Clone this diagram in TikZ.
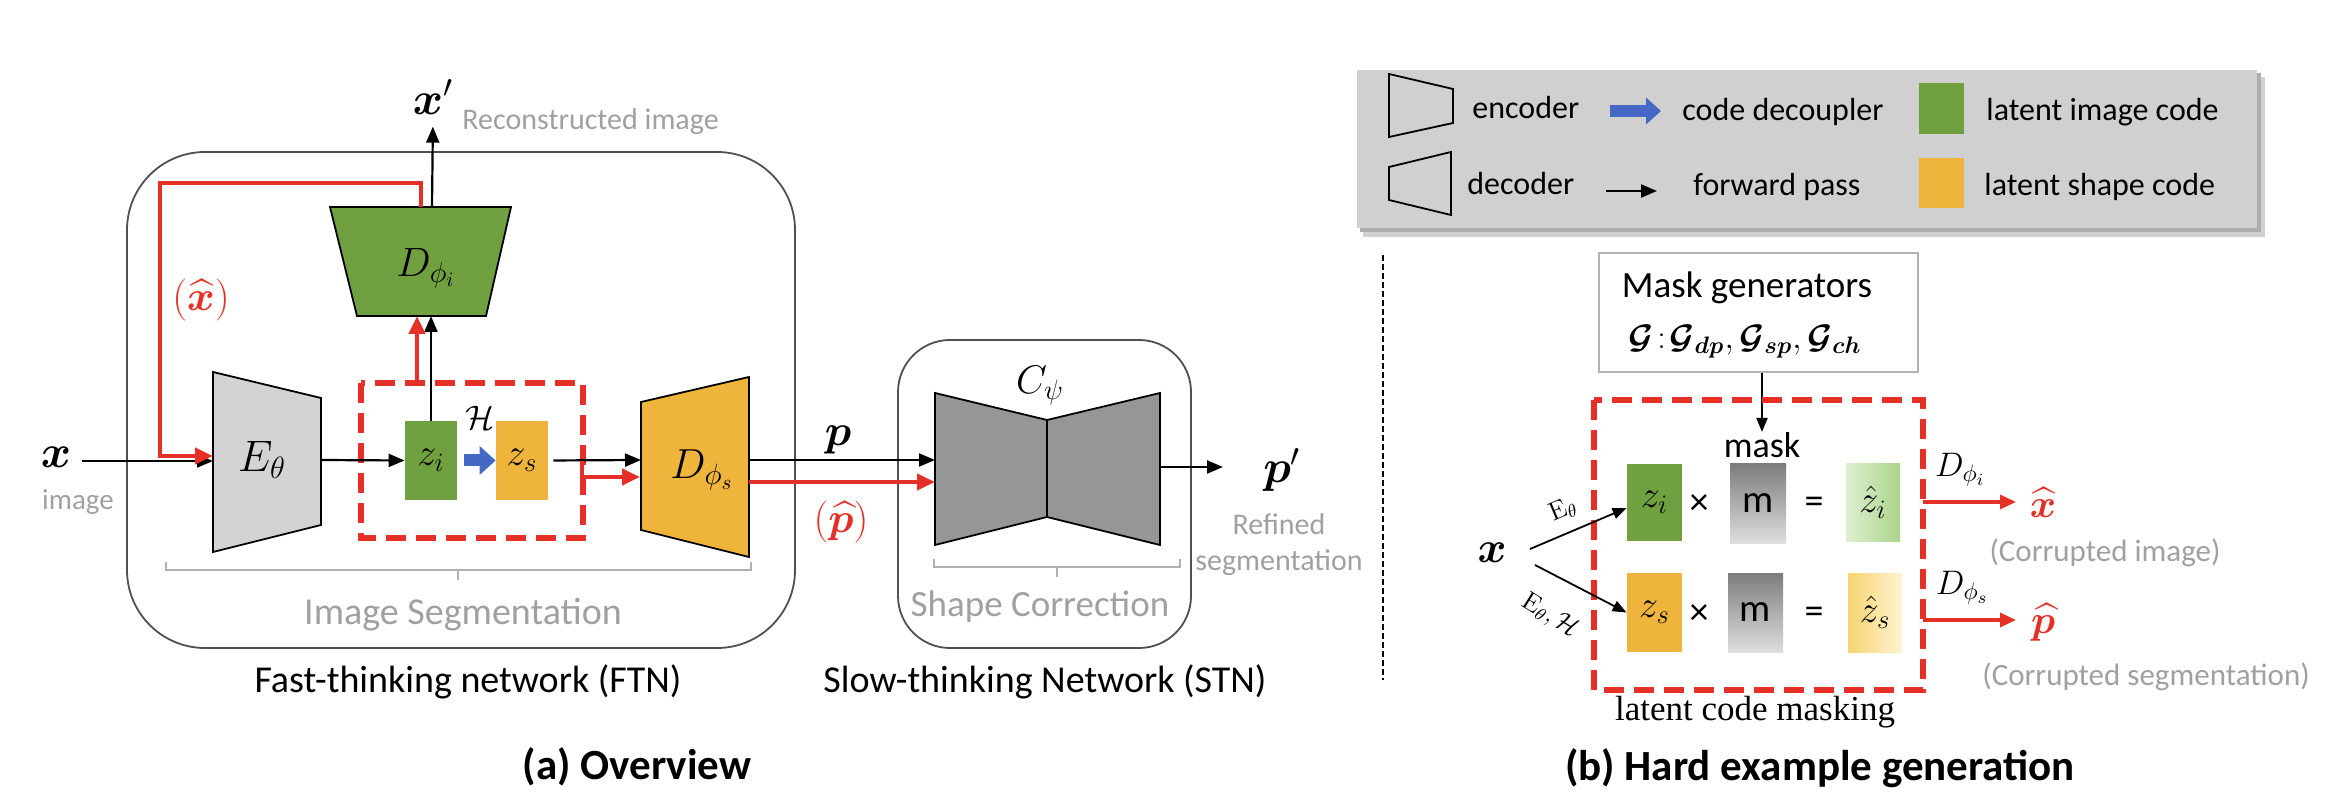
\RequirePackage{fix-cm}
\documentclass[tikz,border=0pt]{standalone}
\usepackage{fontspec}
\usepackage{amsmath}
\usepackage{bm}
\newfontfamily\carlito{Carlito}
\newfontfamily\libserif{Liberation Serif}
\usetikzlibrary{arrows.meta}
\definecolor{cgreen}{RGB}{112,160,64}
\definecolor{cyellow}{RGB}{239,180,60}
\definecolor{cred}{RGB}{228,48,38}
\definecolor{cblue}{RGB}{68,104,196}
\definecolor{ctext}{RGB}{160,160,160}
\definecolor{clgray}{RGB}{211,211,211}
\definecolor{cdgray}{RGB}{150,150,150}
\definecolor{clegend}{RGB}{208,208,208}
\definecolor{cbracket}{RGB}{176,176,176}
\definecolor{cframe}{RGB}{80,80,80}
\definecolor{cmtop}{RGB}{125,125,125}
\definecolor{cmbot}{RGB}{222,222,222}
\definecolor{clgA}{RGB}{222,239,208}
\definecolor{clgB}{RGB}{170,212,140}
\definecolor{cyA}{RGB}{246,212,110}
\definecolor{cyB}{RGB}{255,243,210}
\tikzset{
  arr/.style={line width=1.1pt, -{Triangle[length=8pt,width=6.5pt]}},
  thinarr/.style={line width=0.9pt, -{Triangle[length=7pt,width=5.5pt]}},
  redarr/.style={draw=cred, line width=2.4pt, -{Triangle[length=9pt,width=8pt]}},
  redarrb/.style={draw=cred, line width=1.6pt, -{Triangle[length=8pt,width=7pt]}},
  reddash/.style={draw=cred, line width=2.6pt, dash pattern=on 10pt off 5pt},
  shp/.style={draw=black, line width=0.9pt, line join=miter},
  frame/.style={draw=cframe, line width=0.9pt},
  brk/.style={draw=cbracket, line width=1pt},
  gtxt/.style={inner sep=0pt, text=ctext, font=\carlito\fontsize{#1}{#1}\selectfont},
  btxt/.style={inner sep=0pt, text=black, font=\carlito\fontsize{#1}{#1}\selectfont},
  mth/.style={inner sep=0pt, font=\fontsize{#1}{#1}\selectfont},
  codebox/.style={inner sep=0pt, draw=none, font=\fontsize{19}{19}\selectfont},
  bluearr/.style={draw=cblue, line width=6pt, -{Triangle[length=8pt,width=14pt]}},
}
\begin{document}
\begin{tikzpicture}[x=0.5pt,y=-0.5pt]
\useasboundingbox (0,0) rectangle (2338,806);

% ---------------- (a) Overview ----------------
\draw[frame, rounded corners=39pt] (127,152) rectangle (795,648);
\draw[frame, rounded corners=26pt] (898,340) rectangle (1191,648);

% decoder D_phi_i
\coordinate (Di1) at (330,207); \coordinate (Di2) at (511,207);
\coordinate (Di3) at (486,316); \coordinate (Di4) at (357,316);
\filldraw[shp, fill=cgreen] (Di1) -- (Di2) -- (Di3) -- (Di4) -- cycle;
\node[mth=20.5] (Dil) at (426,268) {$D_{\phi_i}$};
\coordinate (Ditop) at (432,207);
\coordinate (Direda) at (421,207);
\coordinate (Dibot) at (431,316);
\coordinate (Dired) at (417,316);

% encoder E_theta
\coordinate (E1) at (213,372); \coordinate (E2) at (321,398);
\coordinate (E3) at (321,525); \coordinate (E4) at (213,552);
\filldraw[shp, fill=clgray] (E1) -- (E2) -- (E3) -- (E4) -- cycle;
\node[mth=22] (El) at (262,460) {$E_{\theta}$};
\coordinate (Ein) at (213,461);
\coordinate (Eredin) at (213,456);
\coordinate (Eout) at (321,460);

% decoder D_phi_s
\coordinate (Ds1) at (641,402); \coordinate (Ds2) at (749,377);
\coordinate (Ds3) at (749,557); \coordinate (Ds4) at (641,530);
\filldraw[shp, fill=cyellow] (Ds1) -- (Ds2) -- (Ds3) -- (Ds4) -- cycle;
\node[mth=21] (Dsl) at (702,470) {$D_{\phi_s}$};
\coordinate (Dsin) at (641,460);
\coordinate (Dsredin) at (640,477);
\coordinate (Dsout) at (749,460);
\coordinate (Dsoutr) at (749,482);

% C_psi
\coordinate (C1) at (935,393); \coordinate (C2) at (1047,420);
\coordinate (C3) at (1047,517); \coordinate (C4) at (935,545);
\coordinate (C5) at (1160,393); \coordinate (C6) at (1160,545);
\filldraw[shp, fill=cdgray] (C1) -- (C2) -- (C3) -- (C4) -- cycle;
\filldraw[shp, fill=cdgray] (C2) -- (C5) -- (C6) -- (C3) -- cycle;
\node[mth=20] (Cl) at (1040,386) {$C_{\psi}$};
\coordinate (Cin) at (935,460);
\coordinate (Cinr) at (935,482);
\coordinate (Cout) at (1160,467);
\coordinate (Cend) at (1223,467);

% dashed box and codes
\draw[reddash] (361,383) rectangle (583,538);
\coordinate (dbtop) at (417,383);
\coordinate (dbright) at (582,461);
\node[codebox, fill=cgreen, minimum width=26pt, minimum height=39.5pt] (zi) at (431,460.5) {$z_i$};
\node[codebox, fill=cyellow, minimum width=26pt, minimum height=39.5pt] (zs) at (522,460.5) {$z_s$};
\node[mth=17] (Hl) at (480,418) {$\mathcal{H}$};

% labels
\node[mth=23] (xa) at (56,457) {$\bm{x}$};
\node[gtxt=14.5] (imglbl) at (78,502) {image};
\node[mth=23] (xp) at (433,97) {$\bm{x}'$};
\node[gtxt=15, anchor=west] (recon) at (462,122) {Reconstructed image};
\node[mth=21, text=cred] (xhatp) at (201,300) {$(\widehat{\bm{x}})$};
\node[mth=22] (pl) at (838,440) {$\bm{p}$};
\node[mth=21, text=cred] (phatp) at (841,522) {$(\widehat{\bm{p}})$};
\node[mth=23] (ppl) at (1282,470) {$\bm{p}'$};
\node[gtxt=15, align=center, font=\carlito\fontsize{15}{18}\selectfont] (refined) at (1279,545) {Refined\\segmentation};

% connectors (a)
\draw[arr, shorten <=5pt] (xa.east |- Ein) -- (Ein);
\draw[redarr] (Direda) -- ++(0,-24) -- ++(-261,0) -- ++(0,273) -- (Eredin);
\draw[arr] (Eout) -- (zi.west);
\draw[arr] (zi.north) -- (Dibot);
\draw[redarr] (dbtop) -- (Dired);
\draw[arr, shorten >=6pt] (Ditop) -- (xp.south);
\draw[bluearr, shorten <=3.5pt] (zi.east) -- (zs.west);
\draw[arr, shorten <=2.5pt] (zs.east) -- (Dsin);
\draw[redarr] (dbright) -- ++(0,16) -- (Dsredin);
\draw[arr] (Dsout) -- (Cin);
\draw[redarr] (Dsoutr) -- (Cinr);
\draw[arr] (Cout) -- (Cend);

% brackets
\draw[brk] (166,562) -- (166,570) -- (751,570) -- (751,562);
\draw[brk] (458,570) -- (458,580);
\node[gtxt=19] (imseg) at (463,615) {Image Segmentation};
\draw[brk] (934,559) -- (934,567) -- (1180,567) -- (1180,559);
\draw[brk] (1057,567) -- (1057,577);
\node[gtxt=18.5] (shcorr) at (1040,607) {Shape Correction};

\node[btxt=19] (ftn) at (468,682) {Fast-thinking network (FTN)};
\node[btxt=19] (stn) at (1045,682) {Slow-thinking Network (STN)};
\node[btxt=21.5, font=\carlito\bfseries\fontsize{21.5}{21.5}\selectfont] (capa) at (637,767) {(a) Overview};

% separator
\draw[line width=0.6pt, dash pattern=on 3pt off 1.5pt] (1383,255) -- (1383,680);

% ---------------- legend ----------------
\fill[black!18] (1363,77) rectangle (2265,237);
\fill[black!32] (1360,73) rectangle (2261,232);
\fill[clegend] (1357,70) rectangle (2257,228);
\draw[shp] (1389,74) -- (1453,89) -- (1453,123) -- (1389,137) -- cycle;
\draw[shp] (1389,167) -- (1451,152) -- (1451,215) -- (1389,200) -- cycle;
\node[btxt=16, anchor=west] (lenc) at (1472,108) {encoder};
\node[btxt=16, anchor=west] (ldec) at (1467,184) {decoder};
\coordinate (lba1) at (1610,111); \coordinate (lba2) at (1661,111);
\draw[draw=cblue, line width=6pt, -{Triangle[length=7.5pt,width=13pt]}] (lba1) -- (lba2);
\coordinate (lka1) at (1606,191); \coordinate (lka2) at (1657,191);
\draw[line width=1pt, -{Triangle[length=8pt,width=6.5pt]}] (lka1) -- (lka2);
\node[btxt=16, anchor=west] (lcd) at (1682,112) {code decoupler};
\node[btxt=16, anchor=west] (lfp) at (1693,187) {forward pass};
\node[fill=cgreen, minimum width=22.5pt, minimum height=25.5pt, inner sep=0pt] (lgreen) at (1941.5,108.5) {};
\node[fill=cyellow, minimum width=22.5pt, minimum height=25pt, inner sep=0pt] (lyellow) at (1941.5,183) {};
\node[btxt=16, anchor=west] (llic) at (1986,112) {latent image code};
\node[btxt=16, anchor=west] (llsc) at (1984,187) {latent shape code};

% ---------------- (b) Hard example generation ----------------
\node[draw=black!30, line width=0.6pt, minimum width=159.5pt, minimum height=59.5pt, inner sep=0pt] (mg) at (1758.5,312.5) {};
\node[btxt=18.5] (mgt1) at (1747,288) {Mask generators};
\node[mth=17] (mgt2) at (1745,342) {$\bm{\mathcal{G}}\!:\!\bm{\mathcal{G}}_{\bm{dp}},\bm{\mathcal{G}}_{\bm{sp}},\bm{\mathcal{G}}_{\bm{ch}}$};
\node[btxt=18] (mask) at (1762,445) {mask};
\draw[thinarr] (mg.south -| mask) -- (mask.north);

\draw[reddash] (1594,400) rectangle (1923,690);
\node[codebox, fill=cgreen, minimum width=27.5pt, minimum height=38.5pt] (bzi) at (1654.5,502.5) {$z_i$};
\node[codebox, fill=cyellow, minimum width=27.5pt, minimum height=39.5pt] (bzs) at (1654.5,612.5) {$z_s$};
\node[btxt=19] (tim1) at (1699,505) {×};
\node[btxt=19] (tim2) at (1699,615) {×};
\node[codebox, top color=cmtop, bottom color=cmbot, minimum width=28pt, minimum height=39.5pt, font=\carlito\fontsize{19.5}{19.5}\selectfont] (bm1) at (1758,503.5) {m};
\node[codebox, top color=cmtop, bottom color=cmbot, minimum width=27.5pt, minimum height=39.5pt, font=\carlito\fontsize{19.5}{19.5}\selectfont] (bm2) at (1755.5,612.5) {m};
\node[btxt=19] (eq1) at (1814,505) {=};
\node[btxt=19] (eq2) at (1814,615) {=};
\node[codebox, left color=clgA, right color=clgB, minimum width=27pt, minimum height=38.5pt] (bzhi) at (1873,502.5) {$\hat{z}_i$};
\node[codebox, left color=cyA, right color=cyB, minimum width=27pt, minimum height=39.5pt] (bzhs) at (1875,612.5) {$\hat{z}_s$};

\node[mth=22] (bx) at (1492,553) {$\bm{x}$};
\coordinate (bxa) at (1530,549);
\coordinate (bxb) at (1535,565);
\draw[thinarr] (bxa) -- ([yshift=-2.75pt]bzi.west);
\draw[thinarr] (bxb) -- (bzs.west);
\node[mth=13, rotate=23] (eth1) at (1563,510) {$\mathrm{E}_{\theta}$};
\node[mth=13, rotate=-32] (eth2) at (1550,616) {$\mathrm{E}_{\theta},\mathcal{H}$};

\coordinate (bro1) at (1923,502); \coordinate (bre1) at (2016,502);
\coordinate (bro2) at (1923,620); \coordinate (bre2) at (2016,620);
\draw[redarrb] (bro1) -- (bre1);
\draw[redarrb] (bro2) -- (bre2);
\node[mth=17] (bdi) at (1960,470) {$D_{\phi_i}$};
\node[mth=17] (bds) at (1962,588) {$D_{\phi_s}$};
\node[mth=20, text=cred] (bxh) at (2043,503) {$\widehat{\bm{x}}$};
\node[mth=20, text=cred] (bph) at (2043,622) {$\widehat{\bm{p}}$};
\node[gtxt=15.5] (cimg) at (2105,553) {(Corrupted image)};
\node[gtxt=15.5] (cseg) at (2146,677) {(Corrupted segmentation)};
\node[inner sep=0pt, font=\libserif\fontsize{17.5}{17.5}\selectfont] (lcm) at (1755,712) {latent code masking};
\node[btxt=21.5, font=\carlito\bfseries\fontsize{21.5}{21.5}\selectfont] (capb) at (1820,768) {(b) Hard example generation};
\end{tikzpicture}
\end{document}
